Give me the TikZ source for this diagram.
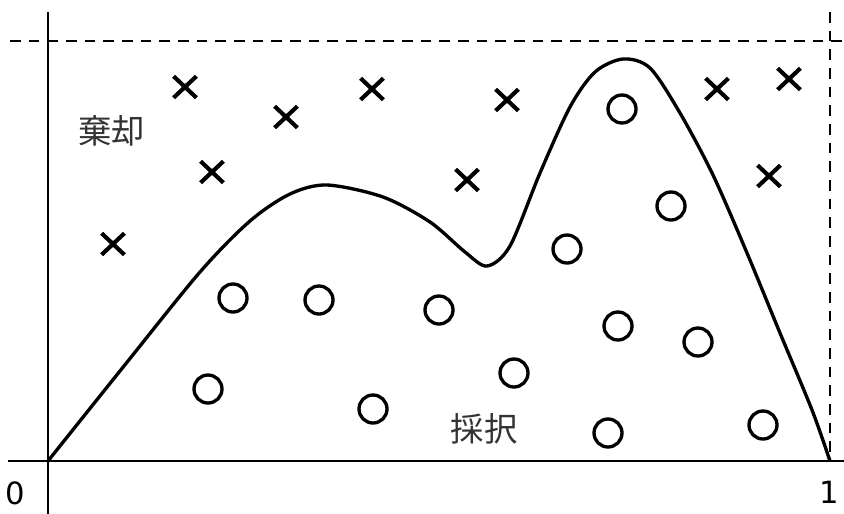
\documentclass[tikz,border=0pt]{standalone}
\usepackage{fontspec}
\setsansfont{DejaVu Sans}
\newfontfamily\jpfont{Noto Sans CJK JP}
\usetikzlibrary{shapes.misc}

\tikzset{R05rej/.style={cross out,draw,line width=3.1pt,minimum width=14pt,minimum height=13pt,inner sep=0pt},
         R05acc/.style={circle,draw,line width=2.5pt,minimum size=21pt,inner sep=0pt},
         R05ax/.style={line width=1.1pt},
         R05dsh/.style={line width=0.9pt,dash pattern=on 8pt off 6pt},
         R05lab/.style={font=\jpfont\fontsize{25}{25}\selectfont,text=black!80},
         R05num/.style={font=\sffamily\fontsize{23}{23}\selectfont}}

\begin{document}
\begin{tikzpicture}[x=0.75pt,y=-0.75pt]
    \useasboundingbox (0,0) rectangle (844,514);
    % axes and bounds
    \coordinate (o) at (48,461); \coordinate (e) at (830,461);
    \coordinate (yt) at (48,12); \coordinate (yb) at (48,514);
    \coordinate (xl) at (8,461); \coordinate (xr) at (844,461);
    \coordinate (tl) at (10,41); \coordinate (tr) at (844,41);
    \coordinate (et) at (830,12);
    \draw[R05ax] (yt)--(yb); \draw[R05ax] (xl)--(xr);
    \draw[R05dsh] (tl)--(tr); \draw[R05dsh] (et)--(e);
    \node[R05num] (n0) at (15,493) {0};
    \node[R05num] (n1) at (829,492) {1};
    % target density
    \draw[line width=2.5pt,line join=round] plot[smooth,tension=0.5] coordinates {(48,461) (124,366)
        (200,272) (250,221) (290,194) (327,185) (383,197) (430,222) (465,252) (487,266)
        (510,246) (540,173) (570,107) (595,72) (623,59) (650,68) (680,113) (713,175)
        (747,253) (780,333) (812,410) (830,461)};
    % samples
    \foreach \x/\y/\n in {113/244/r1,185/87/r2,212/172/r3,286/117/r4,372/89/r5,
                          467/180/r6,507/100/r7,717/89/r8,789/79/r9,769/176/r10}
      {\node[R05rej] (\n) at (\x,\y) {};}
    \foreach \x/\y/\n in {233/298/a1,319/300/a2,439/310/a3,208/389/a4,373/409/a5,
                          514/373/a6,567/249/a7,622/109/a8,671/206/a9,618/326/a10,
                          698/342/a11,608/433/a12,763/425/a13}
      {\node[R05acc] (\n) at (\x,\y) {};}
    \node[R05lab] (rej) at (112,131) {棄却};
    \node[R05lab] (acc) at (484,429) {採択};
  \end{tikzpicture}
\end{document}
